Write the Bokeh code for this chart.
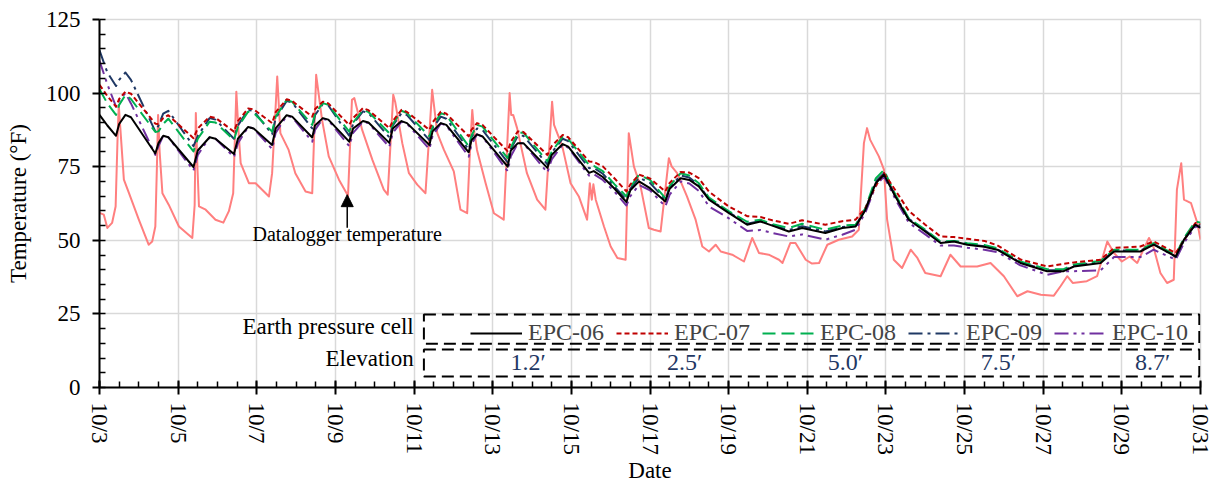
import math
from bokeh.plotting import figure
from bokeh.models import (ColumnDataSource, FixedTicker, SingleIntervalTicker, Range1d,
                          Legend, LegendItem, BoxAnnotation, Label, Arrow, NormalHead)
from bokeh.embed import file_html
from bokeh.resources import INLINE
from bokeh.core.properties import value

# ---------------- data ----------------
date_ticks = [3, 5, 7, 9, 11, 13, 15, 17, 19, 21, 23, 25, 27, 29, 31]
date_labels = ["10/3", "10/5", "10/7", "10/9", "10/11", "10/13", "10/15", "10/17",
               "10/19", "10/21", "10/23", "10/25", "10/27", "10/29", "10/31"]

epc_t = [3.00, 3.20, 3.42, 3.50, 3.66, 3.80,
         4.42, 4.50, 4.62, 4.75,
         5.39, 5.50, 5.80, 5.95,
         6.42, 6.52, 6.78, 6.92,
         7.39, 7.48, 7.76, 7.90,
         8.41, 8.48, 8.68, 8.82,
         9.35, 9.45, 9.70, 9.84,
         10.37, 10.46, 10.68, 10.82,
         11.39, 11.47, 11.68, 11.82,
         12.39, 12.46, 12.60, 12.74,
         13.38, 13.46, 13.64, 13.78,
         14.39, 14.50, 14.78, 14.92,
         15.45, 15.57, 15.80, 16.10,
         16.40, 16.50, 16.72, 17.00,
         17.39, 17.50, 17.78, 18.00, 18.24,
         18.50, 19.00, 19.47, 19.81, 20.11, 20.53, 20.87, 21.46, 21.89, 22.23,
         22.48, 22.74, 22.95, 23.24, 23.58, 24.00, 24.39, 24.73, 25.07, 25.50, 25.83, 26.42,
         27.10, 27.52, 27.78, 28.46, 28.80, 29.47, 29.81, 30.37, 30.58, 30.87, 31.00]

epc06 = [92.6, 89.0, 85.5, 89.5, 92.6, 91.8,
         79.5, 83.0, 85.5, 85.0,
         74.9, 80.5, 85.0, 84.5,
         79.3, 84.5, 88.5, 88.0,
         82.4, 88.0, 92.5, 92.0,
         84.9, 89.0, 91.5, 91.0,
         83.5, 88.0, 90.5, 90.0,
         83.1, 88.0, 90.5, 89.8,
         82.4, 87.0, 89.8, 89.2,
         79.9, 84.0, 86.0, 85.3,
         75.0, 80.5, 83.0, 83.0,
         74.6, 79.0, 82.7, 81.8,
         72.9, 73.5, 71.5, 67.5,
         63.0, 67.0, 70.0, 67.7,
         63.2, 67.5, 71.1, 70.5, 68.3,
         63.8, 59.3, 55.3, 56.4, 55.0, 53.0, 54.2, 52.5, 54.2, 54.7,
         60.4, 69.4, 72.3, 64.9, 57.0, 53.0, 49.1, 49.6, 48.5, 47.8, 46.8, 42.3,
         39.5, 39.5, 41.1, 42.3, 46.2, 46.2, 48.5, 44.5, 50.2, 55.3, 54.2]

epc07 = [102.8, 99.0, 95.4, 98.0, 100.5, 99.8,
         89.6, 89.5, 91.5, 92.5,
         84.7, 88.0, 92.0, 91.6,
         86.9, 90.5, 94.8, 94.5,
         89.8, 93.5, 97.9, 97.3,
         92.0, 94.5, 97.1, 96.5,
         89.2, 91.5, 94.9, 94.2,
         88.1, 90.5, 94.3, 93.6,
         87.5, 90.0, 93.7, 93.0,
         85.3, 87.5, 89.8, 89.2,
         80.2, 83.5, 87.0, 86.8,
         79.0, 82.0, 85.8, 85.0,
         76.8, 76.6, 75.1, 71.0,
         66.6, 69.0, 72.3, 71.0,
         66.6, 69.5, 73.2, 73.0, 71.1,
         66.5, 61.5, 58.2, 57.9, 56.8, 55.6, 56.8, 55.3, 56.5, 57.0,
         61.0, 68.5, 72.8, 67.0, 60.0, 55.3, 51.3, 51.1, 50.5, 49.8, 48.3, 43.5,
         41.1, 42.0, 42.5, 43.4, 47.4, 47.9, 49.6, 45.7, 50.0, 55.9, 55.5]

epc08 = [101.3, 96.5, 92.6, 96.0, 99.4, 98.0,
         86.8, 87.0, 89.5, 91.3,
         80.2, 84.5, 90.3, 90.0,
         84.1, 88.5, 93.7, 93.3,
         86.9, 92.0, 97.7, 97.0,
         89.2, 93.0, 96.6, 96.0,
         86.9, 90.0, 94.3, 93.6,
         86.4, 89.5, 94.0, 93.2,
         85.3, 88.5, 93.2, 92.5,
         81.9, 85.5, 89.2, 88.6,
         77.9, 81.5, 86.5, 86.6,
         76.8, 80.0, 85.3, 84.4,
         75.6, 75.3, 73.5, 69.0,
         64.9, 68.0, 72.3, 70.5,
         64.3, 68.5, 72.8, 72.0, 69.4,
         64.5, 59.9, 56.3, 57.0, 55.5, 54.2, 55.6, 53.6, 55.0, 55.3,
         61.0, 71.0, 73.9, 65.5, 57.5, 53.6, 49.6, 49.8, 49.0, 48.4, 47.3, 42.8,
         40.2, 40.2, 41.8, 43.0, 46.8, 46.8, 49.0, 45.0, 50.8, 56.4, 56.0]

epc09 = [114.5, 107.0, 102.4, 104.5, 107.0, 104.5,
         87.0, 89.0, 93.0, 94.0,
         82.0, 85.5, 91.5, 91.0,
         84.5, 89.0, 94.3, 94.0,
         86.0, 91.5, 97.3, 96.8,
         88.0, 92.5, 96.3, 95.8,
         85.5, 89.5, 93.8, 93.2,
         85.0, 89.0, 93.2, 92.5,
         84.0, 88.0, 92.0, 91.3,
         80.8, 85.0, 88.0, 87.5,
         76.5, 81.0, 85.5, 85.5,
         75.8, 79.8, 84.5, 83.7,
         74.5, 74.6, 72.6, 68.2,
         63.8, 67.5, 71.3, 69.5,
         63.8, 68.0, 72.0, 71.3, 68.8,
         64.0, 59.6, 55.6, 56.6, 55.2, 53.5, 54.8, 53.0, 54.5, 55.0,
         60.5, 70.0, 72.8, 65.2, 57.3, 53.3, 49.3, 49.8, 48.7, 48.0, 47.0, 42.5,
         39.8, 39.8, 41.4, 42.6, 46.5, 46.5, 48.8, 44.3, 50.0, 55.5, 55.0]

epc10 = [111.0, 103.0, 95.4, 97.5, 100.0, 96.5,
         79.0, 82.0, 85.5, 85.0,
         73.7, 79.0, 85.0, 84.5,
         78.3, 83.0, 88.5, 88.0,
         81.0, 86.5, 92.3, 91.8,
         83.5, 87.5, 91.3, 90.8,
         82.0, 86.5, 90.3, 89.8,
         81.7, 86.5, 90.3, 89.6,
         81.0, 85.5, 89.7, 89.0,
         78.4, 82.5, 86.0, 85.2,
         73.5, 78.5, 83.0, 83.0,
         73.0, 77.5, 82.5, 81.5,
         72.0, 72.5, 70.5, 66.5,
         61.8, 65.0, 68.8, 67.0,
         61.5, 65.5, 70.0, 69.3, 66.8,
         61.5, 57.5, 53.2, 53.5, 52.5, 51.3, 52.0, 50.2, 51.9, 53.6,
         59.5, 68.5, 71.7, 64.0, 56.0, 52.0, 48.2, 48.2, 47.5, 46.8, 46.0, 41.5,
         38.3, 39.5, 39.5, 39.8, 44.3, 44.3, 46.8, 43.4, 49.1, 54.7, 54.5]

dl_t = [3.00, 3.11, 3.20, 3.32, 3.41, 3.46, 3.49, 3.53, 3.62, 3.75, 4.00, 4.25, 4.34,
        4.42, 4.46, 4.49, 4.53, 4.60, 4.76, 5.02, 5.36, 5.42, 5.45, 5.49, 5.53, 5.70,
        5.95, 6.15, 6.29, 6.40, 6.48, 6.53, 6.59, 6.80, 6.97, 7.31, 7.39, 7.52, 7.60,
        7.81, 7.98, 8.24, 8.41, 8.51, 8.66, 8.83, 9.09, 9.32, 9.42, 9.48, 9.68, 9.94,
        10.23, 10.33, 10.47, 10.52, 10.70, 10.87, 11.08, 11.29, 11.46, 11.59, 11.76,
        12.01, 12.18, 12.35, 12.42, 12.48, 12.52, 12.60, 12.82, 13.03, 13.28, 13.43,
        13.47, 13.52, 13.62, 13.87, 14.13, 14.34, 14.51, 14.56, 14.77, 14.98, 15.19,
        15.40, 15.47, 15.52, 15.56, 15.62, 15.83, 16.00, 16.17, 16.38, 16.46, 16.50,
        16.59, 16.76, 16.97, 17.10, 17.27, 17.48, 17.55, 17.69, 17.94, 18.16, 18.33,
        18.50, 18.67, 18.80, 19.09, 19.39, 19.60, 19.77, 20.02, 20.28, 20.37, 20.57,
        20.70, 20.96, 21.12, 21.30, 21.51, 21.80, 22.14, 22.31, 22.44, 22.52, 22.60,
        22.82, 22.95, 23.03, 23.20, 23.41, 23.63, 23.80, 24.00, 24.39, 24.64, 24.90,
        25.32, 25.66, 26.00, 26.34, 26.60, 26.94, 27.27, 27.44, 27.61, 27.75, 28.11,
        28.37, 28.63, 28.80, 29.00, 29.20, 29.39, 29.69, 29.80, 29.98, 30.15, 30.32,
        30.40, 30.51, 30.58, 30.76, 30.92, 31.00]

dl_temp = [59.3, 58.7, 54.2, 55.9, 61.5, 85.0, 96.0, 88.0, 70.6, 66.0, 57.0, 48.5, 49.6,
           54.7, 75.0, 92.6, 80.0, 66.0, 62.1, 54.7, 50.8, 62.0, 93.2, 75.0, 61.5, 60.4,
           57.0, 56.0, 59.9, 66.0, 100.5, 88.0, 76.2, 69.4, 69.4, 64.9, 72.8, 105.6, 86.4,
           80.7, 72.8, 66.6, 66.0, 106.2, 90.9, 78.5, 70.6, 65.1, 97.7, 98.3, 87.5, 77.3,
           67.2, 65.5, 99.4, 97.0, 83.0, 72.8, 68.9, 66.0, 101.1, 86.4, 80.7,
           73.4, 60.4, 59.2, 80.0, 94.3, 88.0, 80.7, 69.4, 59.2, 57.0, 100.0,
           92.6, 92.6, 88.1, 72.8, 63.8, 60.4, 97.1, 89.2, 81.9, 69.4, 64.9,
           57.0, 69.4, 63.8, 69.0, 63.8, 54.7, 47.9, 44.0, 43.4, 86.4, 83.0,
           75.1, 68.3, 54.2, 53.6, 53.0, 77.9, 75.1, 72.8, 64.9, 57.0, 47.9,
           46.2, 48.5, 46.2, 45.1, 42.8, 50.8, 45.7, 45.1, 43.4, 42.3, 49.1,
           49.1, 43.4, 42.1, 42.3, 48.5, 50.2, 51.3, 53.6, 83.0, 88.1, 84.1,
           78.5, 74.0, 57.0, 43.4, 40.6, 46.8, 44.0, 38.9, 37.8, 45.1, 41.1,
           41.1, 42.3, 37.8, 31.0, 32.7, 31.5, 31.2, 34.4, 37.8, 35.5, 36.1,
           37.8, 49.6, 45.7, 42.8, 44.5, 42.3, 50.8, 47.9, 38.9, 35.5, 36.6,
           67.2, 76.2, 63.8, 62.6, 55.9, 50.2]

epc_names = ["EPC-06", "EPC-07", "EPC-08", "EPC-09", "EPC-10"]
elevations = ["1.2\u2032", "2.5\u2032", "5.0\u2032", "7.5\u2032", "8.7\u2032"]

# ---------------- styling / layout ----------------
FONT = "Liberation Serif"
colors = ["#000000", "#C00000", "#00B050", "#1F3864", "#7030A0"]
dashes = ["solid", "5 3", "13 6", "14 5 3 5", "14 5 3 5 3 5"]
series = [epc06, epc07, epc08, epc09, epc10]
elev_pos = [13.9, 17.88, 21.97, 25.86, 29.78]

p = figure(width=1216, height=485, output_backend="svg", toolbar_location=None,
           x_range=Range1d(3, 31), y_range=Range1d(0, 125),
           min_border_left=99, min_border_right=16, min_border_top=19, min_border_bottom=97)
p.background_fill_color = "white"
p.border_fill_color = "white"
p.outline_line_color = "#d9d9d9"
p.outline_line_width = 1.5

p.xaxis.ticker = FixedTicker(ticks=date_ticks, minor_ticks=[3 + 0.5 * i for i in range(57)])
p.xaxis.major_label_overrides = {d: lab for d, lab in zip(date_ticks, date_labels)}
p.xaxis.major_label_orientation = -math.pi / 2
p.yaxis.ticker = SingleIntervalTicker(interval=25, num_minor_ticks=5)
p.xgrid.ticker = FixedTicker(ticks=date_ticks)

for ax in (p.xaxis[0], p.yaxis[0]):
    ax.axis_line_color = "black"
    ax.axis_line_width = 2
    ax.major_tick_line_color = "black"
    ax.major_tick_line_width = 2
    ax.minor_tick_line_color = "black"
    ax.minor_tick_line_width = 1.5
    ax.major_label_text_font = FONT
    ax.major_label_text_font_size = "23px"
    ax.major_label_text_color = "black"
    ax.axis_label_text_font = FONT
    ax.axis_label_text_font_size = "23px"
    ax.axis_label_text_font_style = "normal"
    ax.axis_label_text_color = "black"

p.yaxis.major_tick_out = 7
p.yaxis.major_tick_in = 0
p.yaxis.minor_tick_in = 6
p.yaxis.minor_tick_out = 0
p.yaxis.major_label_standoff = 12
p.yaxis.axis_label = "Temperature (\u00b0F)"
p.yaxis.axis_label_standoff = 12

p.xaxis.major_tick_out = 7
p.xaxis.major_tick_in = 7
p.xaxis.minor_tick_in = 6
p.xaxis.minor_tick_out = 0
p.xaxis.major_label_standoff = 8
p.xaxis.axis_label = "Date"
p.xaxis.axis_label_standoff = 0

for g in (p.xgrid[0], p.ygrid[0]):
    g.grid_line_color = "#d9d9d9"
    g.grid_line_width = 1.5

# datalogger temperature
p.line(dl_t, dl_temp, line_color="#FF7F7F", line_width=2, line_join="round")

renderers = {}
for name, ys, c, d in reversed(list(zip(epc_names, series, colors, dashes))):
    r = p.line(epc_t, ys, line_color=c, line_width=2, line_dash=d, line_join="round")
    renderers[name] = r

legend = Legend(items=[LegendItem(label=n, renderers=[renderers[n]]) for n in epc_names],
                orientation="horizontal", location=(371, 41),
                padding=0, margin=0, spacing=12, glyph_width=52, glyph_height=24,
                label_standoff=6, label_height=24,
                label_text_font=FONT, label_text_font_size="24px",
                border_line_alpha=0, background_fill_alpha=0)
p.add_layout(legend, "center")

# dashed boxes
for top, bottom in ((24.8, 14.9), (12.9, 3.7)):
    p.add_layout(BoxAnnotation(left=11.25, right=30.97, top=top, bottom=bottom,
                               fill_alpha=0, line_color="black", line_alpha=1.0,
                               line_width=2, line_dash="12 6"))

p.add_layout(Label(x=10.99, y=16.4, text="Earth pressure cell", text_align="right",
                   text_font=FONT, text_font_size="23px", text_color="black"))
p.add_layout(Label(x=10.99, y=5.6, text="Elevation", text_align="right",
                   text_font=FONT, text_font_size="23px", text_color="black"))

p.text(x=elev_pos, y=[8.5] * len(elev_pos), text=elevations, text_font=value(FONT),
       text_font_size=value("24px"), text_color="#1F3864", text_align="center",
       text_baseline="alphabetic")

# datalogger annotation
p.add_layout(Label(x=9.3, y=48.5, text="Datalogger temperature", text_align="center",
                   text_font=FONT, text_font_size="20px", text_color="black"))
p.add_layout(Arrow(end=NormalHead(size=12, fill_color="black", line_color="black"),
                   x_start=9.3, y_start=54.3, x_end=9.3, y_end=65.5,
                   line_color="black", line_width=1.5))

open("out.html", "w").write(file_html(p, INLINE))
